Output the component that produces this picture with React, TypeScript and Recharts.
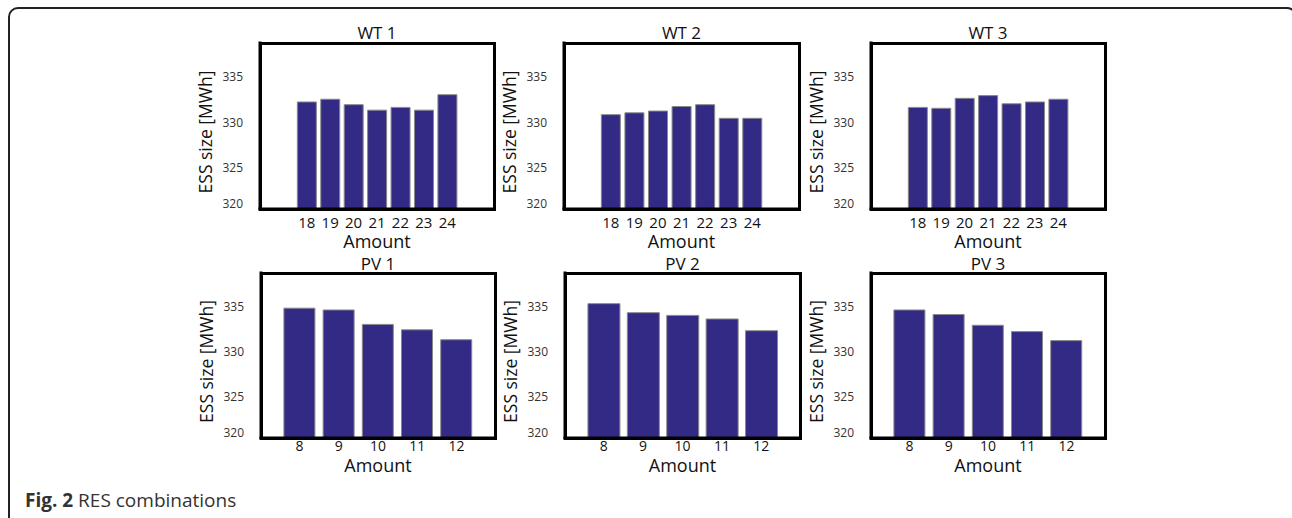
import React from "react";
import { BarChart, Bar, XAxis, YAxis } from "recharts";

const WT_AMOUNTS = ["18", "19", "20", "21", "22", "23", "24"];
const PV_AMOUNTS = ["8", "9", "10", "11", "12"];

const WT1 = [332.3, 332.6, 332.0, 331.4, 331.7, 331.4, 333.1];
const WT2 = [330.9, 331.1, 331.3, 331.8, 332.0, 330.5, 330.5];
const WT3 = [331.7, 331.6, 332.7, 333.0, 332.1, 332.3, 332.6];
const PV1 = [334.9, 334.7, 333.1, 332.5, 331.4];
const PV2 = [335.4, 334.4, 334.1, 333.7, 332.4];
const PV3 = [334.7, 334.2, 333.0, 332.3, 331.3];

const Y_TICKS = [320, 325, 330, 335];
const Y_DOMAIN: [number, number] = [320.5, 338.8];

const FONT = "'Open Sans', sans-serif";
const BAR_FILL = "#322a84";
const AXIS = { stroke: "#000", strokeWidth: 3, strokeLinecap: "square" as const };

const TOP = 40;
const BOTTOM = 50;
const YW = 70;
const RIGHT = 20;

interface PanelProps {
  title: string;
  amounts: string[];
  values: number[];
  left: number;
  top: number;
  boxW: number;
  boxH: number;
  pad: number;
  amountOffset: number;
  tickMargin: number;
  tickSize: number;
  titleGap: number;
}

function Panel(props: PanelProps) {
  const { title, amounts, values, left, top, boxW, boxH, pad, amountOffset, tickMargin, tickSize, titleGap } = props;
  const data = amounts.map((a, i) => ({ amount: a, ess: values[i] }));
  const width = YW + boxW + RIGHT;
  const height = TOP + boxH + BOTTOM;
  const plotBottom = TOP + boxH;

  const yTick = (p: any) => (
    <text
      x={p.x}
      y={Math.min(p.y, plotBottom - 5)}
      dy={4}
      textAnchor="end"
      fontSize={12}
      fontFamily={FONT}
      fill="#333"
    >
      {p.payload.value}
    </text>
  );

  return (
    <>
      <div style={{ position: "absolute", left: left - YW, top: top - TOP }}>
        <BarChart
          width={width}
          height={height}
          data={data}
          margin={{ top: TOP, right: RIGHT, bottom: 0, left: 0 }}
          barCategoryGap="10%"
        >
          <XAxis
            dataKey="amount"
            height={BOTTOM}
            padding={{ left: pad, right: pad }}
            axisLine={AXIS}
            tickLine={false}
            tickMargin={tickMargin}
            tick={{ fontSize: tickSize, fill: "#111", fontFamily: FONT }}
            interval={0}
            label={{
              content: (p: any) => (
                <text
                  x={p.viewBox.x + p.viewBox.width / 2}
                  y={p.viewBox.y + amountOffset}
                  textAnchor="middle"
                  fontSize={18}
                  fontFamily={FONT}
                  fill="#111"
                >
                  Amount
                </text>
              ),
            }}
          />
          <YAxis
            width={YW}
            domain={Y_DOMAIN}
            allowDataOverflow
            ticks={Y_TICKS}
            axisLine={AXIS}
            tickLine={false}
            tick={yTick}
            tickMargin={11}
            label={{
              content: (p: any) => {
                const cx = p.viewBox.x + 15;
                const cy = p.viewBox.y + p.viewBox.height / 2 + 6;
                return (
                  <text
                    x={cx}
                    y={cy}
                    transform={`rotate(-90 ${cx} ${cy})`}
                    textAnchor="middle"
                    dominantBaseline="central"
                    fontSize={17.5}
                    fontFamily={FONT}
                    fill="#111"
                  >
                    ESS size [MWh]
                  </text>
                );
              },
            }}
          />
          <Bar
            dataKey="ess"
            fill={BAR_FILL}
            stroke="#8a8a8a"
            strokeWidth={1}
            isAnimationActive={false}
          />
        </BarChart>
      </div>
      <div
        style={{
          position: "absolute",
          left: left - 1.5,
          top: top - 1.5,
          width: boxW + 3,
          height: boxH + 3,
          boxSizing: "border-box",
          border: "3px solid #000",
          pointerEvents: "none",
        }}
      />
      <div
        style={{
          position: "absolute",
          left: left,
          width: boxW,
          top: top - titleGap,
          textAlign: "center",
          fontSize: 17,
          lineHeight: "17px",
          color: "#111",
        }}
      >
        {title}
      </div>
    </>
  );
}

export default function App() {
  return (
    <div
      style={{
        position: "fixed",
        left: 0,
        top: 0,
        width: 1292,
        height: 518,
        overflow: "hidden",
        background: "#fff",
        fontFamily: FONT,
      }}
    >
      <div
        style={{
          position: "absolute",
          left: 8,
          top: 7,
          width: 1289,
          height: 520,
          boxSizing: "border-box",
          border: "2px solid #222",
          borderRadius: 10,
        }}
      />
      <Panel title="WT 1" amounts={WT_AMOUNTS} values={WT1} left={260} top={43} boxW={234} boxH={166} pad={35} amountOffset={39} tickMargin={2} tickSize={15} titleGap={19} />
      <Panel title="WT 2" amounts={WT_AMOUNTS} values={WT2} left={564} top={43} boxW={235} boxH={166} pad={35} amountOffset={39} tickMargin={2} tickSize={15} titleGap={19} />
      <Panel title="WT 3" amounts={WT_AMOUNTS} values={WT3} left={871} top={43} boxW={234} boxH={166} pad={35} amountOffset={39} tickMargin={2} tickSize={15} titleGap={19} />
      <Panel title="PV 1" amounts={PV_AMOUNTS} values={PV1} left={261} top={273} boxW={234} boxH={165} pad={19} amountOffset={34} tickMargin={-3} tickSize={14} titleGap={18} />
      <Panel title="PV 2" amounts={PV_AMOUNTS} values={PV2} left={565} top={273} boxW={235} boxH={165} pad={19} amountOffset={34} tickMargin={-3} tickSize={14} titleGap={18} />
      <Panel title="PV 3" amounts={PV_AMOUNTS} values={PV3} left={871} top={273} boxW={234} boxH={165} pad={19} amountOffset={34} tickMargin={-3} tickSize={14} titleGap={18} />
      <div
        style={{
          position: "absolute",
          left: 25,
          top: 487,
          fontSize: 19,
          color: "#333",
          whiteSpace: "nowrap",
        }}
      >
        <b>Fig. 2</b> RES combinations
      </div>
    </div>
  );
}
